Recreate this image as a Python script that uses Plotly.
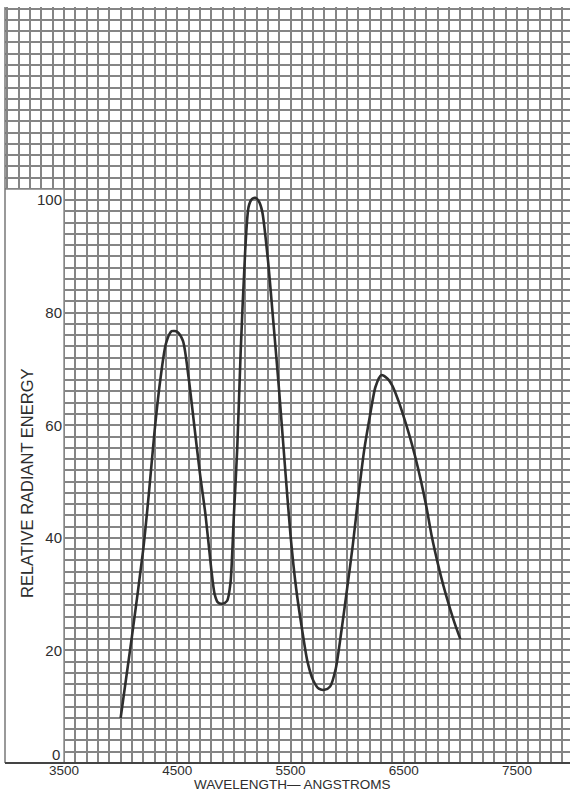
import plotly.graph_objects as go

# ---- data ----
wavelength = [4000, 4100, 4200, 4250, 4300, 4350, 4400, 4450, 4500, 4550, 4600, 4650,
              4700, 4750, 4800, 4830, 4860, 4900, 4940, 4970, 5000, 5030, 5060, 5100,
              5130, 5160, 5190, 5220, 5250, 5300, 5350, 5400, 5450, 5500, 5550, 5600,
              5650, 5700, 5750, 5800, 5850, 5900, 5950, 6000, 6050, 6100, 6150, 6200,
              6250, 6300, 6350, 6400, 6450, 6500, 6550, 6600, 6650, 6700, 6750, 6800,
              6850, 6900, 6950, 7000]
energy = [8, 22.5, 38, 48, 59, 68, 74.5, 76.7, 76.6, 75, 68.5, 60,
          51.5, 44, 34.5, 30, 28.5, 28.3, 28.8, 32, 44, 56, 73, 91,
          98.8, 100.2, 100.4, 99.8, 98, 89.5, 78, 66, 53, 40.5, 31, 24,
          18, 14.7, 13.2, 13, 13.6, 16.8, 23.5, 31, 38.7, 47.5, 55.5, 61.5,
          66.8, 68.9, 68.4, 67, 64.5, 61.5, 58.2, 54.5, 50.3, 45.5, 40, 35.5,
          31.5, 28, 24.8, 22]

x_labels = ["3500", "4500", "5500", "6500", "7500"]
y_labels = ["20", "40", "60", "80", "100"]
y_zero_label = "0"
x_title = "WAVELENGTH\u2014 ANGSTROMS"
y_title = "RELATIVE RADIANT ENERGY"

# ---- axis geometry ----
X_MIN, X_MAX = 2979, 7968
Y_MIN, Y_MAX = 0, 134.3
x_grid = list(range(3000, 8000, 100))
y_grid = list(range(0, 136, 2))
x_text = [str(v) if str(v) in x_labels else "" for v in x_grid]
y_text = [str(v) if str(v) in y_labels else "" for v in y_grid]

INK = "#2e2e2e"
GRID = "#858585"
FONT = "Liberation Sans"

PLOT_TOP, PLOT_BOTTOM = 7, 763
PLOT_H = PLOT_BOTTOM - PLOT_TOP
YAXIS_POS = (3500 - X_MIN) / (X_MAX - X_MIN)

fig = go.Figure()
fig.add_trace(go.Scatter(
    x=wavelength, y=energy, mode="lines",
    line=dict(color=INK, width=2.6, shape="spline", smoothing=0.7),
    hoverinfo="skip", showlegend=False,
))

fig.update_layout(
    width=570, height=792,
    margin=dict(l=5, r=0, t=PLOT_TOP, b=792 - PLOT_BOTTOM),
    paper_bgcolor="white", plot_bgcolor="white",
    font=dict(family=FONT, color=INK, size=15),
    xaxis=dict(
        range=[X_MIN, X_MAX], tickmode="array", tickvals=x_grid, ticktext=x_text,
        anchor="free", position=3 / PLOT_H,
        showgrid=True, gridcolor=GRID, gridwidth=1.8, zeroline=False,
        ticks="", showline=False,
        tickfont=dict(size=13.5, family=FONT, color=INK),
    ),
    yaxis=dict(
        range=[Y_MIN, Y_MAX], tickmode="array", tickvals=y_grid, ticktext=y_text,
        anchor="free", position=YAXIS_POS,
        showgrid=True, gridcolor=GRID, gridwidth=1.8, zeroline=False,
        ticks="", showline=False, ticklabelstandoff=2,
        tickfont=dict(size=15, family=FONT, color=INK),
    ),
    shapes=[
        dict(type="rect", xref="x", yref="y", x0=X_MIN, x1=3494, y0=Y_MIN, y1=101.85,
             fillcolor="white", line=dict(width=0), layer="between"),
        dict(type="line", xref="paper", yref="paper", x0=0, x1=0, y0=0, y1=1,
             line=dict(color="#777777", width=1.5)),
        dict(type="line", xref="paper", yref="paper", x0=0, x1=1, y0=0, y1=0,
             line=dict(color="#444444", width=2)),
    ],
    annotations=[
        dict(text=y_zero_label, xref="paper", yref="y", x=YAXIS_POS, y=0,
             xanchor="right", yanchor="middle", showarrow=False, xshift=-2, yshift=9,
             font=dict(size=15, family=FONT, color=INK)),
        dict(text=y_title, xref="paper", yref="paper", x=0, y=1 - (483 - PLOT_TOP) / PLOT_H,
             xanchor="center", yanchor="middle", textangle=-90, showarrow=False,
             xshift=22, font=dict(size=16.5, family=FONT, color=INK)),
        dict(text=x_title, xref="paper", yref="paper",
             x=(292 - 5) / 565, y=-(784.5 - PLOT_BOTTOM) / PLOT_H,
             xanchor="center", yanchor="middle", showarrow=False,
             font=dict(size=13.5, family=FONT, color=INK)),
    ],
)

# the page body has a default 8px margin; remove it so the figure fills the window
fig.write_html("out.html", config={"displayModeBar": False},
               post_script="document.body.style.margin='0';")
